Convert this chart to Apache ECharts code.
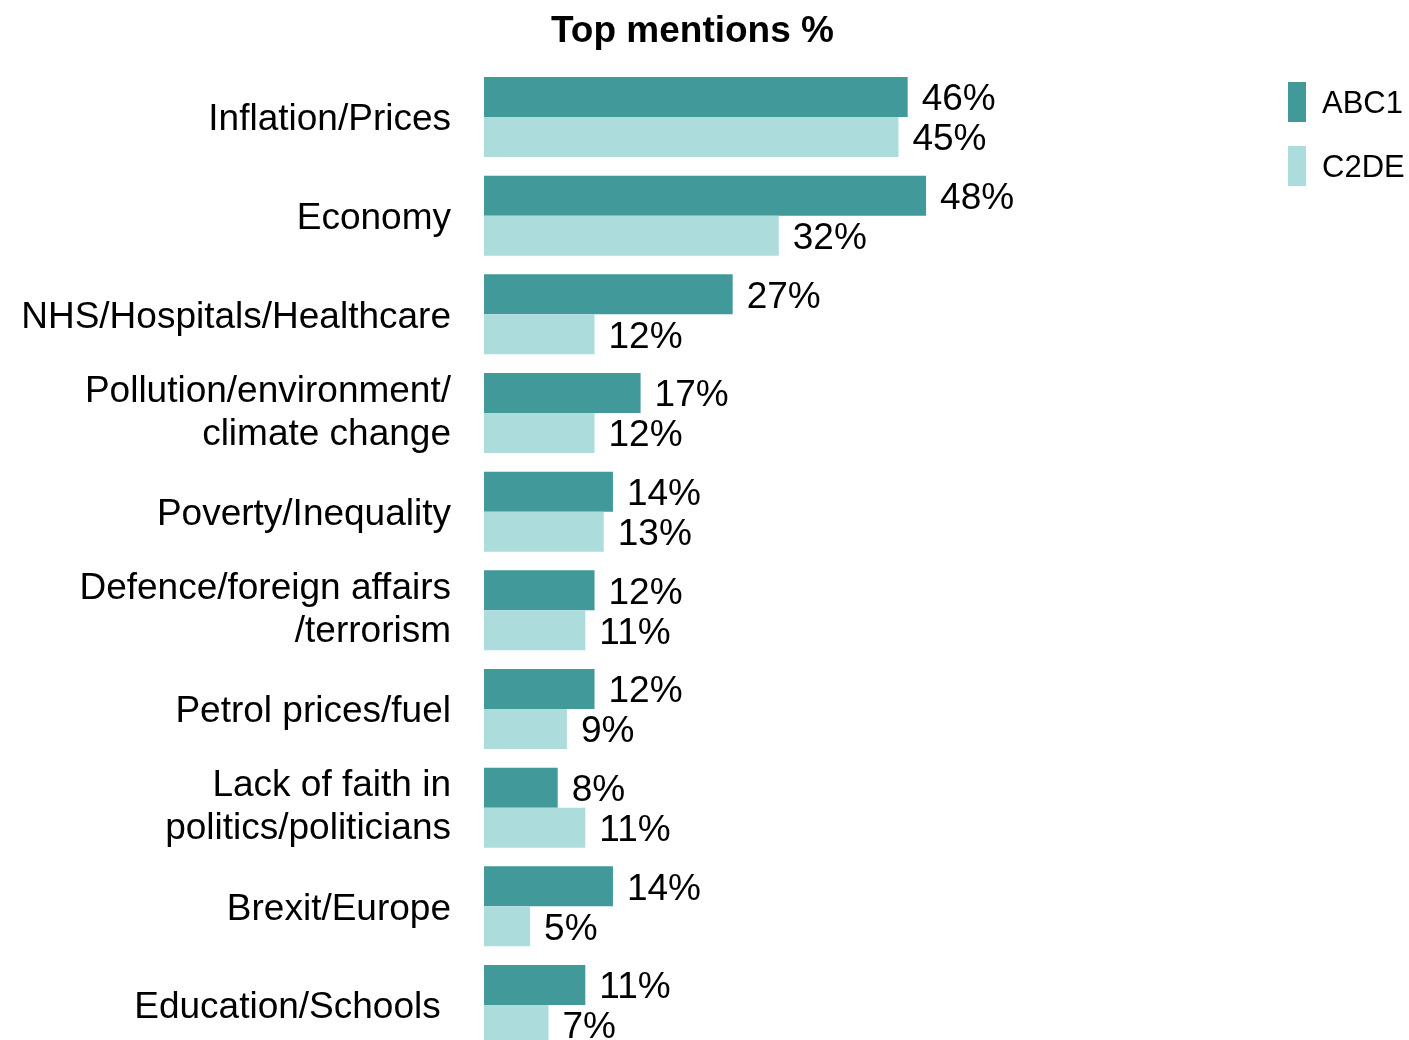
<!DOCTYPE html>
<html>
<head>
<meta charset="utf-8">
<script src="https://cdn.jsdelivr.net/npm/echarts@6/dist/echarts.min.js"></script>
<style>
html,body{margin:0;padding:0;background:#fff;overflow:hidden;width:1409px;height:1040px;}
#chart{width:1409px;height:1070px;}
</style>
</head>
<body>
<div id="chart"></div>
<script>
var categories = [
  "Inflation/Prices",
  "Economy",
  "NHS/Hospitals/Healthcare",
  "Pollution/environment/\nclimate change",
  "Poverty/Inequality",
  "Defence/foreign affairs\n/terrorism",
  "Petrol prices/fuel",
  "Lack of faith in\npolitics/politicians",
  "Brexit/Europe",
  "Education/Schools "
];
var seriesNames = ["ABC1", "C2DE"];
var abc1 = [46, 48, 27, 17, 14, 12, 12, 8, 14, 11];
var c2de = [45, 32, 12, 12, 13, 11, 9, 11, 5, 7];
var colors = ["#429999", "#acdcdc"];
var FONT = "'Liberation Sans', Arial, sans-serif";

var chart = echarts.init(document.getElementById('chart'), null, {renderer: 'canvas'});
function labelCfg() {
  return {
    show: true,
    position: 'right',
    distance: 14,
    offset: [0, 3],
    formatter: '{c}%',
    color: '#000',
    fontSize: 37,
    fontFamily: FONT
  };
}
chart.setOption({
  animation: false,
  backgroundColor: '#fff',
  title: {
    text: 'Top mentions %',
    left: 551,
    top: 13,
    padding: 0,
    textStyle: {fontSize: 37, fontWeight: 'bold', color: '#000', fontFamily: FONT}
  },
  legend: {
    orient: 'vertical',
    left: 1288,
    top: 82,
    padding: 0,
    itemWidth: 18,
    itemHeight: 40,
    itemGap: 24,
    icon: 'rect',
    data: seriesNames,
    formatter: function (n) { return '{s|' + n + '}'; },
    textStyle: {
      fontSize: 31, color: '#000', fontFamily: FONT, padding: [0, 0, 0, 11],
      rich: {s: {fontSize: 31, color: '#000', fontFamily: FONT, lineHeight: 34, padding: [4, 0, 0, 0]}}
    }
  },
  grid: {left: 484, top: 67.67, width: 921, height: 986.7, containLabel: false},
  xAxis: {
    type: 'value', min: 0, max: 100,
    show: false
  },
  yAxis: {
    type: 'category',
    inverse: true,
    data: categories,
    axisLine: {show: false},
    axisTick: {show: false},
    axisLabel: {
      margin: 33,
      fontSize: 37,
      lineHeight: 43,
      color: '#000',
      fontFamily: FONT,
      align: 'right',
      formatter: function (v) {
        return v.indexOf('\n') >= 0 ? v : '{s|' + v + '}';
      },
      rich: {
        s: {fontSize: 37, color: '#000', fontFamily: FONT, lineHeight: 40, padding: [6, 0, 0, 0]}
      }
    }
  },
  series: [
    {
      name: seriesNames[0], type: 'bar', data: abc1,
      barWidth: 40, barGap: '0%',
      itemStyle: {color: colors[0]},
      label: labelCfg()
    },
    {
      name: seriesNames[1], type: 'bar', data: c2de,
      barWidth: 40, barGap: '0%',
      itemStyle: {color: colors[1]},
      label: labelCfg()
    }
  ]
});
</script>
</body>
</html>
